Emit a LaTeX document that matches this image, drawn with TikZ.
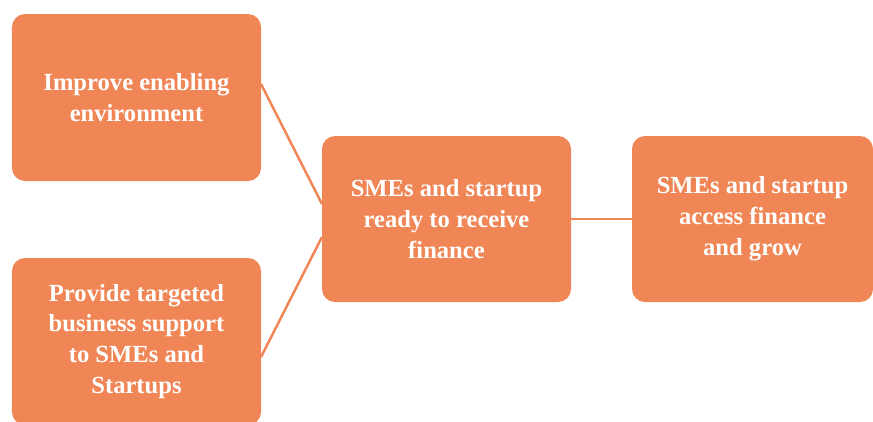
\documentclass[tikz,border=0pt]{standalone}
\usepackage{fontspec}
\setmainfont{Liberation Serif}
\usetikzlibrary{positioning}
\definecolor{boxorange}{RGB}{240,134,86}

\begin{document}
\begin{tikzpicture}
      [line width=1.4pt,
      stage/.style={rectangle, fill=boxorange, rounded corners=0.26cm,
        text=white, align=center, inner sep=0pt, outer sep=0pt, minimum width=4.98cm,
        minimum height=3.34cm, font=\fontsize{14}{17.6}\selectfont\bfseries},
      link/.style={draw=boxorange}]

      \useasboundingbox (0,0) rectangle (17.46,-8.42);
      \clip (0,0) rectangle (17.46,-8.42);

      \node [stage] (imp) at (2.73,-1.95) {Improve enabling\\environment};
      \node [stage] (biz) at (2.73,-6.83) {Provide targeted\\business support\\to SMEs and\\Startups};
      \node [stage, minimum height=3.32cm] (ready) at (8.93,-4.38) {SMEs and startup\\ready to receive\\finance};
      \node [stage, minimum width=4.82cm, minimum height=3.32cm] (grow) [right=1.22cm of ready] {SMEs and startup\\access finance\\and grow};

      \path [link] ([yshift=0.27cm]imp.east) -- ([yshift=0.3cm]ready.west);
      \path [link] ([yshift=-0.31cm]biz.east) -- ([yshift=-0.36cm]ready.west);
      \path [link] (ready.east) -- (grow.west);
\end{tikzpicture}
\end{document}
